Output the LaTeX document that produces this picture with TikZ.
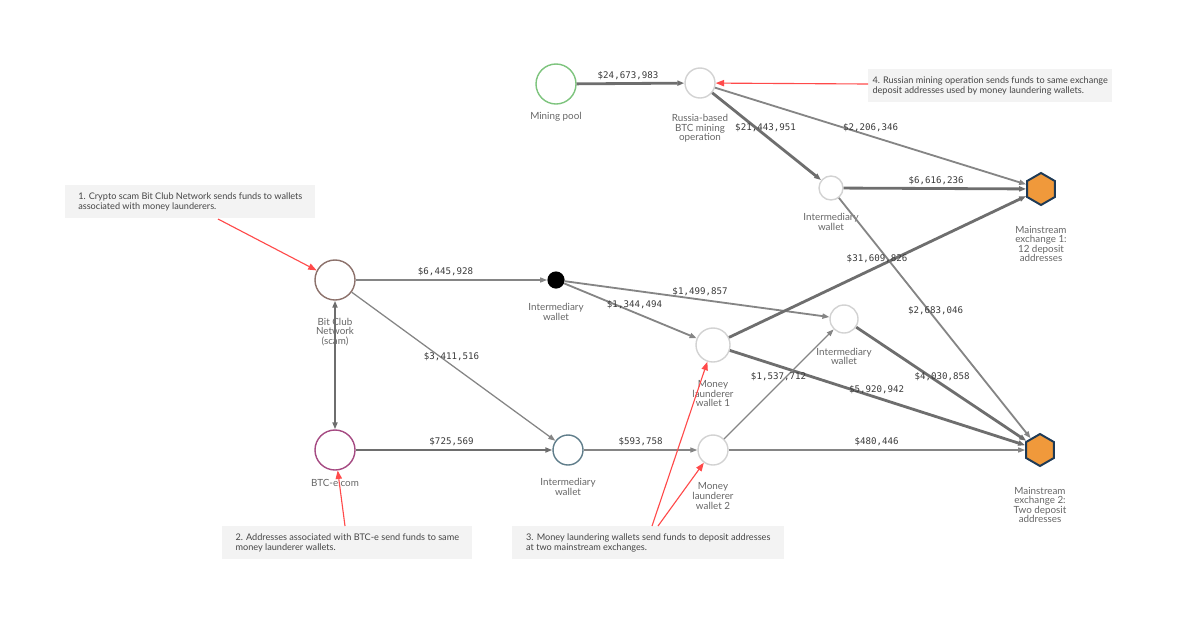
\documentclass[tikz,border=0pt]{standalone}
\usepackage{fontspec}
\setmainfont{Lato}
\newfontfamily\amtfont{DejaVu Sans Mono}
\usetikzlibrary{shapes.geometric,arrows.meta,calc}
\definecolor{flowgray}{HTML}{858585}
\definecolor{flowdark}{HTML}{6E6E6E}
\definecolor{amtgray}{HTML}{3A3A3A}
\definecolor{labgray}{HTML}{666666}
\definecolor{notegray}{HTML}{F3F3F3}
\definecolor{notetext}{HTML}{454545}
\definecolor{calloutred}{HTML}{FF4A4A}
\definecolor{poolgreen}{HTML}{7DC47D}
\definecolor{ringgray}{HTML}{D2D2D2}
\definecolor{bitclubbrown}{HTML}{8C716B}
\definecolor{btcepurple}{HTML}{A54A82}
\definecolor{iwblue}{HTML}{5F7D8A}
\definecolor{hexfill}{HTML}{F0993B}
\definecolor{hexline}{HTML}{1E3A56}
\begin{document}
\begin{tikzpicture}[x=0.025cm,y=-0.025cm,
    wallet/.style={circle,draw=#1,line width=1pt,fill=white,inner sep=0pt},
    exch/.style={regular polygon,regular polygon sides=6,shape border rotate=30,
      draw=hexline,fill=hexfill,line width=1.4pt,inner sep=0pt,minimum size=0.8cm},
    lab/.style={font=\fontsize{7}{6.8}\selectfont,text=labgray,align=center,inner sep=0pt},
    flow/.style={draw=flowgray,-{Triangle[length=5pt,width=3.6pt]}},
    flowthin/.style={line width=0.9pt},
    flowmid/.style={line width=1.3pt},
    flowheavy/.style={line width=2pt,draw=flowdark},
    amt/.style={font=\amtfont\fontsize{6.5}{7}\selectfont,text=amtgray,inner sep=0pt},
    note/.style={fill=notegray,text=notetext,font=\fontsize{6.5}{6.9}\selectfont,
      align=left,anchor=north west,minimum height=0.82cm,inner xsep=3pt},
    callout/.style={draw=calloutred,line width=0.8pt,-{Triangle[length=6pt,width=4.5pt]}}]
    \useasboundingbox (0,0) rectangle (1200,625);

    % Fuentes de fondos
    \node[wallet=poolgreen,minimum size=1cm,
      label={[lab,label distance=5pt]below:{Mining pool}}] (pool) at (556,84) {};
    \node[wallet=ringgray,minimum size=0.75cm,
      label={[lab,label distance=11pt]below:{Russia-based\\BTC mining\\operation}}] (russia) at (700,83) {};
    \node[wallet=bitclubbrown,minimum size=1cm,
      label={[lab,label distance=12pt]below:{Bit Club\\Network\\(scam)}}] (bitclub) at (335,280) {};
    \node[wallet=btcepurple,minimum size=1cm,
      label={[lab,label distance=6pt]below:{BTC-e.com}}] (btce) at (335,450) {};

    % Carteras intermedias
    \node[wallet=ringgray,minimum size=0.6cm,
      label={[lab,label distance=9pt]below:{Intermediary\\wallet}}] (iwtop) at (831,188) {};
    \node[circle,fill=black,inner sep=0pt,minimum size=0.43cm,
      label={[lab,label distance=10pt]below:{Intermediary\\wallet}}] (iwblack) at (556,280) {};
    \node[wallet=ringgray,minimum size=0.7cm,
      label={[lab,label distance=10pt]below:{Intermediary\\wallet}}] (iwright) at (844,319) {};
    \node[wallet=iwblue,minimum size=0.75cm,
      label={[lab,label distance=9pt]below:{Intermediary\\wallet}}] (iwlow) at (568,450) {};

    % Lavadores
    \node[wallet=ringgray,minimum size=0.85cm,
      label={[lab,label distance=12.5pt]below:{Money\\launderer\\wallet 1}}] (mlone) at (713,345) {};
    \node[wallet=ringgray,minimum size=0.75cm,
      label={[lab,label distance=12pt]below:{Money\\launderer\\wallet 2}}] (mltwo) at (713,450) {};

    % Exchanges
    \node[exch,label={[lab,label distance=14pt]below:{Mainstream\\exchange 1:\\12 deposit\\addresses}}] (exone) at (1041,189) {};
    \node[exch,label={[lab,label distance=14pt]below:{Mainstream\\exchange 2:\\Two deposit\\addresses}}] (extwo) at (1040,450) {};

    % Flujos y montos
    \foreach \a/\b/\v/\w in {
        pool/russia/{\$24,673,983}/flowheavy,
        russia/iwtop/{\$21,443,951}/flowheavy,
        russia/exone/{\$2,206,346}/flowmid,
        iwtop/exone/{\$6,616,236}/flowheavy,
        iwtop/extwo/{\$2,683,046}/flowmid,
        bitclub/iwblack/{\$6,445,928}/flowthin,
        bitclub/iwlow/{\$3,411,516}/flowthin,
        btce/iwlow/{\$725,569}/flowheavy,
        iwblack/mlone/{\$1,344,494}/flowmid,
        iwblack/iwright/{\$1,499,857}/flowmid,
        mlone/exone/{\$31,609,826}/flowheavy,
        mlone/extwo/{\$5,920,942}/flowheavy,
        iwlow/mltwo/{\$593,758}/flowthin,
        mltwo/iwright/{\$1,537,712}/flowthin,
        mltwo/extwo/{\$480,446}/flowthin,
        iwright/extwo/{\$4,030,858}/flowheavy} {
        \draw[flow,\w] (\a) -- (\b);
        \node[amt,yshift=5.7pt] (amt-\a-\b) at ($(\a)!.5!(\b)$) {\v};
    }
    \draw[flow,flowheavy,{Triangle[length=5pt,width=3.6pt]}-{Triangle[length=5pt,width=3.6pt]}] (bitclub) -- (btce);

    % Notas
    \node[note,minimum width=6.25cm] (noteone) at (65,185)
      {1. Crypto scam Bit Club Network sends funds to wallets\\associated with money launderers.};
    \node[note,minimum width=6.25cm] (notetwo) at (222,526)
      {2. Addresses associated with BTC-e send funds to same\\money launderer wallets.};
    \node[note,minimum width=6.8cm] (notethree) at (512,526)
      {3. Money laundering wallets send funds to deposit addresses\\at two mainstream exchanges.};
    \node[note,minimum width=5.85cm] (notefour) at (868,69)
      {4. Russian mining operation sends funds to same exchange\\deposit addresses used by money laundering wallets.};

    % Flechas rojas
    \coordinate (tailone) at (218,219);
    \coordinate (tailtwo) at (345,526);
    \coordinate (tailthree) at (652,526);
    \coordinate (tailthreeb) at (658,526);
    \coordinate (tailfour) at (868,84);
    \draw[callout] (tailone) -- (bitclub);
    \draw[callout] (tailtwo) -- (btce);
    \draw[callout] (tailthree) -- (mlone);
    \draw[callout] (tailthreeb) -- (mltwo);
    \draw[callout] (tailfour) -- (russia);
\end{tikzpicture}
\end{document}
